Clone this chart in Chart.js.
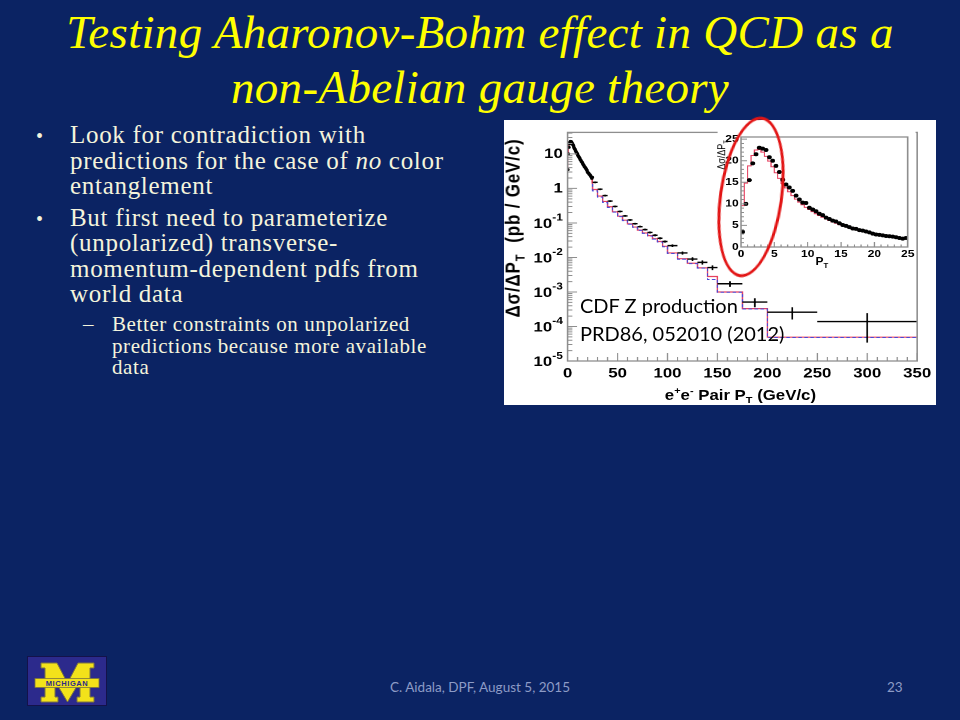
<!DOCTYPE html>
<html>
<head>
<meta charset="utf-8">
<script src="https://cdn.jsdelivr.net/npm/chart.js@4.4.1/dist/chart.umd.min.js"></script>
<style>
  html, body { margin: 0; padding: 0; }
  body { width: 960px; height: 720px; background: #0b2363; position: relative; overflow: hidden; font-family: 'Liberation Serif', 'Times New Roman', serif; }
  .title { position: absolute; left: 0; width: 960px; text-align: center; color: #ffff00; font-family: 'Liberation Serif', serif; font-style: italic; font-size: 47px; letter-spacing: 0.3px; line-height: 55px; white-space: nowrap; }
  .ln { position: absolute; color: #f4f4dc; font-family: 'Liberation Serif', serif; font-size: 25px; letter-spacing: 0.7px; line-height: 26px; white-space: nowrap; }
  .sub { font-size: 21px; letter-spacing: 0.6px; line-height: 22px; }
  .dot { position: absolute; color: #f4f4dc; font-family: 'Liberation Serif', serif; font-size: 20px; line-height: 26px; }
  #plot { position: absolute; left: 504px; top: 120px; width: 360px; height: 285px; background: #fff; transform: scaleX(1.2); transform-origin: 0 0; }
  #plot canvas { position: absolute; left: 0; top: 0; }
  #insetWrap { position: absolute; left: 178px; top: 9px; width: 165px; height: 132px; background: #fff; }
  .ax { position: absolute; font-family: 'Liberation Sans', Arial, sans-serif; font-weight: bold; color: #000; white-space: nowrap; text-align: center; }
  .ax sub, .ax sup { font-size: 65%; }
  #ellipse { position: absolute; left: 719px; top: 116px; width: 64px; height: 162px; box-sizing: border-box; border: 3px solid #e21414; border-radius: 50%; transform: rotate(8deg); }
  #cdf { position: absolute; left: 580px; top: 291px; font-family: Lato, 'Open Sans', sans-serif; font-size: 20px; line-height: 28px; color: #000; white-space: nowrap; }
  .foot { position: absolute; top: 679px; font-family: Lato, 'Open Sans', sans-serif; font-size: 13.5px; color: #8d9bc6; white-space: nowrap; }
</style>
</head>
<body>

<div class="title" style="top:5px">Testing Aharonov-Bohm effect in QCD as a</div>
<div class="title" style="top:60px">non-Abelian gauge theory</div>

<div class="dot" style="left:36px;top:123px">•</div>
<div class="ln" style="left:70px;top:122px">Look for contradiction with</div>
<div class="ln" style="left:70px;top:148px">predictions for the case of <i>no</i> color</div>
<div class="ln" style="left:70px;top:173px">entanglement</div>
<div class="dot" style="left:36px;top:206px">•</div>
<div class="ln" style="left:70px;top:205px">But first need to parameterize</div>
<div class="ln" style="left:70px;top:230px">(unpolarized) transverse-</div>
<div class="ln" style="left:70px;top:256px">momentum-dependent pdfs from</div>
<div class="ln" style="left:70px;top:281px">world data</div>
<div class="ln sub" style="left:83px;top:313px">–</div>
<div class="ln sub" style="left:112px;top:313px">Better constraints on unpolarized</div>
<div class="ln sub" style="left:112px;top:335px">predictions because more available</div>
<div class="ln sub" style="left:112px;top:356px">data</div>

<div id="plot">
  <canvas id="main" width="360" height="285"></canvas>
  <div id="insetWrap"><canvas id="inset" width="165" height="132"></canvas></div>
  <div class="ax" style="left:-112px;top:99px;width:240px;height:18px;line-height:18px;font-size:17px;letter-spacing:0.8px;transform:rotate(-90deg)">Δσ/ΔP<sub>T</sub>&nbsp; (pb / GeV/c)</div>
  <div class="ax" style="left:77px;top:261px;width:240px;height:20px;line-height:20px;font-size:14px">e<sup>+</sup>e<sup>-</sup> Pair P<sub>T</sub> (GeV/c)</div>
  <div class="ax" style="left:151px;top:30px;width:60px;height:10px;line-height:10px;font-size:9px;font-weight:normal;transform:rotate(-90deg)">Δσ/ΔP<sub>T</sub></div>
  <div class="ax" style="left:255px;top:136px;width:20px;height:12px;line-height:12px;font-size:10px">P<sub>T</sub></div>
</div>

<div id="cdf">CDF Z production<br>PRD86, 052010 (2012)</div>
<div id="ellipse"></div>

<svg style="position:absolute;left:27px;top:656px" width="80" height="50" viewBox="0 0 80 50">
  <rect x="0.5" y="0.5" width="79" height="49" fill="#2c2a8c" stroke="#14124a"/>
  <polygon points="14,7 30,7 40.5,27 51,7 67,7 67,12 63,12 63,41 67,41 67,46 50,46 50,41 53,41 53,25 40.5,46 28,25 28,41 31,41 31,46 14,46 14,41 18,41 18,12 14,12" fill="#f3e21a" stroke="#7d7440" stroke-width="1"/>
  <rect x="8" y="22.5" width="64" height="9" fill="#f3e21a" stroke="#7d7440" stroke-width="0.8"/>
  <text x="40" y="30" text-anchor="middle" font-family="Liberation Sans, Arial" font-weight="bold" font-size="7.5" letter-spacing="0.6" fill="#2c2a8c">MICHIGAN</text>
</svg>

<div class="foot" style="left:0;width:960px;text-align:center">C. Aidala, DPF, August 5, 2015</div>
<div class="foot" style="left:887px">23</div>

<script>
// CDF Z -> e+e- pT spectrum (pb / GeV/c)
// fine bins 0-25 GeV, 0.5 GeV wide
const fineWidth = 0.5;
const fineData = [3.5, 10.0, 15.5, 19.4, 21.5, 23.0, 22.8, 22.5, 20.8, 20.0,
  18.8, 17.4, 15.6, 14.5, 13.8, 13.0, 11.9, 11.0, 10.3, 10.2,
  9.1, 8.7, 8.3, 7.7, 7.4, 6.8, 6.5, 6.1, 5.9, 5.5,
  5.1, 4.9, 4.6, 4.3, 4.2, 3.9, 3.8, 3.6, 3.4, 3.1,
  2.9, 2.8, 2.7, 2.55, 2.5, 2.4, 2.25, 2.1, 1.95, 2.1];
const fineTheory = [3.6, 9.6, 14.8, 18.8, 21.2, 22.5, 22.6, 22.0, 21.0, 19.9,
  18.6, 17.2, 15.9, 14.7, 13.7, 12.8, 11.9, 11.1, 10.4, 9.8,
  9.2, 8.7, 8.2, 7.7, 7.3, 6.9, 6.5, 6.15, 5.8, 5.5,
  5.2, 4.95, 4.7, 4.45, 4.2, 4.0, 3.8, 3.6, 3.45, 3.25,
  3.1, 2.95, 2.8, 2.68, 2.55, 2.45, 2.33, 2.22, 2.12, 2.02];

// coarse bins 25-350 GeV
const coarseEdges = [25, 30, 35, 40, 45, 50, 55, 60, 65, 70, 75, 80, 85, 90, 95, 100,
  110, 120, 130, 140, 150, 175, 200, 250, 350];
const coarseData = [1.50, 0.95, 0.62, 0.43, 0.30, 0.215, 0.16, 0.122, 0.095, 0.078,
  0.064, 0.053, 0.044, 0.036, 0.029, 0.022, 0.0135, 0.0090, 0.0072, 0.0051,
  0.00173, 0.00051, 0.00026, 0.000139];
const coarseErr = [0.04, 0.03, 0.02, 0.015, 0.011, 0.009, 0.007, 0.006, 0.005, 0.0045,
  0.0038, 0.0033, 0.0029, 0.0025, 0.0021, 0.0019, 0.0014, 0.0011, 0.0010, 0.0008,
  0.00032, 0.00015, 0.0001, 0.000105];
const coarseTheory = [1.45, 0.93, 0.60, 0.42, 0.295, 0.21, 0.157, 0.12, 0.094, 0.076,
  0.062, 0.051, 0.043, 0.035, 0.029, 0.021, 0.0135, 0.0092, 0.0068, 0.0050,
  0.0028, 0.00100, 0.00033, 0.000049];
const coarseAlt = [1.35, 0.85, 0.56, 0.39, 0.28, 0.205, 0.152, 0.117, 0.092, 0.075,
  0.061, 0.05, 0.042, 0.034, 0.028, 0.0205, 0.013, 0.0089, 0.0066, 0.0049,
  0.0023, 0.00098, 0.00032, 0.000048];

const yTickValues = [1e-5, 1e-4, 1e-3, 1e-2, 1e-1, 1, 10];
const yTickBase = ['10', '10', '10', '10', '10', '1', '10'];
const yTickExp = ['-5', '-4', '-3', '-2', '-1', '', ''];
const xTickValues = [0, 50, 100, 150, 200, 250, 300, 350];
const insetTicks = [0, 5, 10, 15, 20, 25];

const SANS = "'Liberation Sans', 'DejaVu Sans', Arial, sans-serif";

const fineEdges = fineData.map((_, i) => i * fineWidth).concat([fineData.length * fineWidth]);
const fineCenters = fineData.map((_, i) => (i + 0.5) * fineWidth);
const coarseLo = coarseEdges.slice(0, -1);
const coarseHi = coarseEdges.slice(1);
const coarseCenters = coarseLo.map((lo, i) => (lo + coarseHi[i]) / 2);

function steps(edges, vals){
  const pts = vals.map((v, i) => ({ x: edges[i], y: v }));
  pts.push({ x: edges[edges.length - 1], y: vals[vals.length - 1] });
  return pts;
}

// ROOT-like frame with ticks pointing inward, plus error crosses
const rootAxes = {
  id: 'rootAxes',
  afterDatasetsDraw(chart){
    const { ctx, scales: { x, y } } = chart;
    chart.data.datasets.forEach(ds => {
      if(!ds.binLo) return;
      ctx.save();
      ctx.strokeStyle = '#000';
      ctx.lineWidth = 1.4;
      ds.data.forEach((p, i) => {
        const py = y.getPixelForValue(p.y);
        const px = x.getPixelForValue(p.x);
        ctx.beginPath();
        ctx.moveTo(x.getPixelForValue(ds.binLo[i]), py);
        ctx.lineTo(x.getPixelForValue(ds.binHi[i]), py);
        const e = ds.err[i];
        if(e){
          ctx.moveTo(px, y.getPixelForValue(p.y + e));
          ctx.lineTo(px, y.getPixelForValue(Math.max(p.y - e, y.min)));
        }
        ctx.stroke();
      });
      ctx.restore();
    });
  },
  afterDraw(chart, args, o){
    const { ctx, chartArea: a, scales: { x, y } } = chart;
    ctx.save();
    ctx.strokeStyle = '#8e8e8e';
    ctx.lineWidth = 1;
    ctx.beginPath();
    for(let v = x.min; v <= x.max + 1e-9; v += o.xMinor){
      const major = Math.abs(v / o.xMajor - Math.round(v / o.xMajor)) < 1e-6;
      const px = x.getPixelForValue(v);
      ctx.moveTo(px, a.bottom);
      ctx.lineTo(px, a.bottom - (major ? o.majLen : o.minLen));
    }
    if(o.logY){
      for(let n = -5; n <= 1; n++){
        for(let d = 1; d <= 9; d++){
          const v = d * Math.pow(10, n);
          if(v < y.min || v > y.max) continue;
          const py = y.getPixelForValue(v);
          ctx.moveTo(a.left, py);
          ctx.lineTo(a.left + (d === 1 ? o.majLen : o.minLen), py);
        }
      }
    } else {
      for(let v = 0; v <= y.max; v += o.yMinor){
        const major = Math.abs(v / o.yMajor - Math.round(v / o.yMajor)) < 1e-6;
        const py = y.getPixelForValue(v);
        ctx.moveTo(a.left, py);
        ctx.lineTo(a.left + (major ? o.majLen : o.minLen), py);
      }
    }
    ctx.stroke();
    ctx.lineWidth = 1.3;
    ctx.strokeRect(a.left, a.top, a.right - a.left, a.bottom - a.top);

    // power-of-ten labels with real superscripts
    if(o.supLabels){
      ctx.fillStyle = '#000';
      ctx.textAlign = 'right';
      ctx.textBaseline = 'middle';
      yTickValues.forEach((v, i) => {
        if(!yTickExp[i]) return;
        const py = y.getPixelForValue(v);
        const right = a.left - 4;
        ctx.font = `bold 10px ${SANS}`;
        const ew = ctx.measureText(yTickExp[i]).width;
        ctx.fillText(yTickExp[i], right, py - 5);
        ctx.font = `bold 14px ${SANS}`;
        ctx.fillText(yTickBase[i], right - ew, py + 1);
      });
    }
    ctx.restore();
  }
};

const mainChart = new Chart(document.getElementById('main'), {
  type: 'scatter',
  data: {
    datasets: [
      { label: 'CDF (fine)', data: fineCenters.map((c, i) => ({ x: c, y: fineData[i] })),
        pointRadius: 1.5, pointBackgroundColor: '#000', pointBorderWidth: 0 },
      { label: 'CDF', data: coarseCenters.map((c, i) => ({ x: c, y: coarseData[i] })),
        pointRadius: 1, pointBackgroundColor: '#000', pointBorderWidth: 0,
        binLo: coarseLo, binHi: coarseHi, err: coarseErr },
      { type: 'line', label: 'alt', data: steps(coarseEdges, coarseAlt), stepped: 'after',
        borderColor: '#4a4ad8', borderWidth: 1, borderDash: [3, 2], pointRadius: 0, fill: false },
      { type: 'line', label: 'theory', data: steps(fineEdges.slice(0, -1).concat(coarseEdges), fineTheory.concat(coarseTheory)),
        stepped: 'after', borderColor: '#e6405f', borderWidth: 1.2, pointRadius: 0, fill: false }
    ]
  },
  options: {
    responsive: false, animation: false, devicePixelRatio: 2, events: [],
    layout: { padding: { top: 7, right: 15, left: 0, bottom: 0 } },
    plugins: { legend: { display: false }, tooltip: { enabled: false },
      rootAxes: { xMajor: 50, xMinor: 10, logY: true, majLen: 8, minLen: 4, supLabels: true } },
    scales: {
      x: { type: 'linear', min: 0, max: 350,
        afterBuildTicks: s => { s.ticks = xTickValues.map(v => ({ value: v })); },
        afterFit: s => { s.height = 44; },
        grid: { display: false, drawTicks: false }, border: { display: false },
        ticks: { color: '#000', padding: 4, maxRotation: 0, autoSkip: false,
          font: { family: SANS, weight: 'bold', size: 14 } } },
      y: { type: 'logarithmic', min: 1e-5, max: 42,
        afterBuildTicks: s => { s.ticks = yTickValues.map(v => ({ value: v })); },
        afterFit: s => { s.width = 53; },
        grid: { display: false, drawTicks: false }, border: { display: false },
        ticks: { color: '#000', padding: 4, autoSkip: false,
          // exponent labels are drawn by the plugin with superscripts
          callback: (v, i) => yTickExp[i] ? '' : yTickBase[i],
          font: { family: SANS, weight: 'bold', size: 14 } } }
    }
  },
  plugins: [rootAxes]
});

const insetChart = new Chart(document.getElementById('inset'), {
  type: 'scatter',
  data: {
    datasets: [
      { label: 'CDF', data: fineCenters.map((c, i) => ({ x: c, y: fineData[i] })),
        pointRadius: 2, pointBackgroundColor: '#000', pointBorderWidth: 0 },
      { type: 'line', label: 'theory', data: steps(fineEdges, fineTheory), stepped: 'after',
        borderColor: '#e6405f', borderWidth: 1, pointRadius: 0, fill: false }
    ]
  },
  options: {
    responsive: false, animation: false, devicePixelRatio: 2, events: [],
    layout: { padding: { top: 6, right: 5, left: 0, bottom: 0 } },
    plugins: { legend: { display: false }, tooltip: { enabled: false },
      rootAxes: { xMajor: 5, xMinor: 1, yMajor: 5, yMinor: 1, logY: false, majLen: 5, minLen: 2.5 } },
    scales: {
      x: { type: 'linear', min: 0, max: 25,
        afterBuildTicks: s => { s.ticks = insetTicks.map(v => ({ value: v })); },
        afterFit: s => { s.height = 14; },
        grid: { display: false, drawTicks: false }, border: { display: false },
        ticks: { color: '#000', padding: 1, maxRotation: 0, autoSkip: false,
          font: { family: SANS, weight: 'bold', size: 10 } } },
      y: { type: 'linear', min: 0, max: 25.5,
        afterBuildTicks: s => { s.ticks = insetTicks.map(v => ({ value: v })); },
        afterFit: s => { s.width = 19.5; },
        grid: { display: false, drawTicks: false }, border: { display: false },
        ticks: { color: '#000', padding: 2, autoSkip: false,
          font: { family: SANS, weight: 'bold', size: 10 } } }
    }
  },
  plugins: [rootAxes]
});
</script>
</body>
</html>
